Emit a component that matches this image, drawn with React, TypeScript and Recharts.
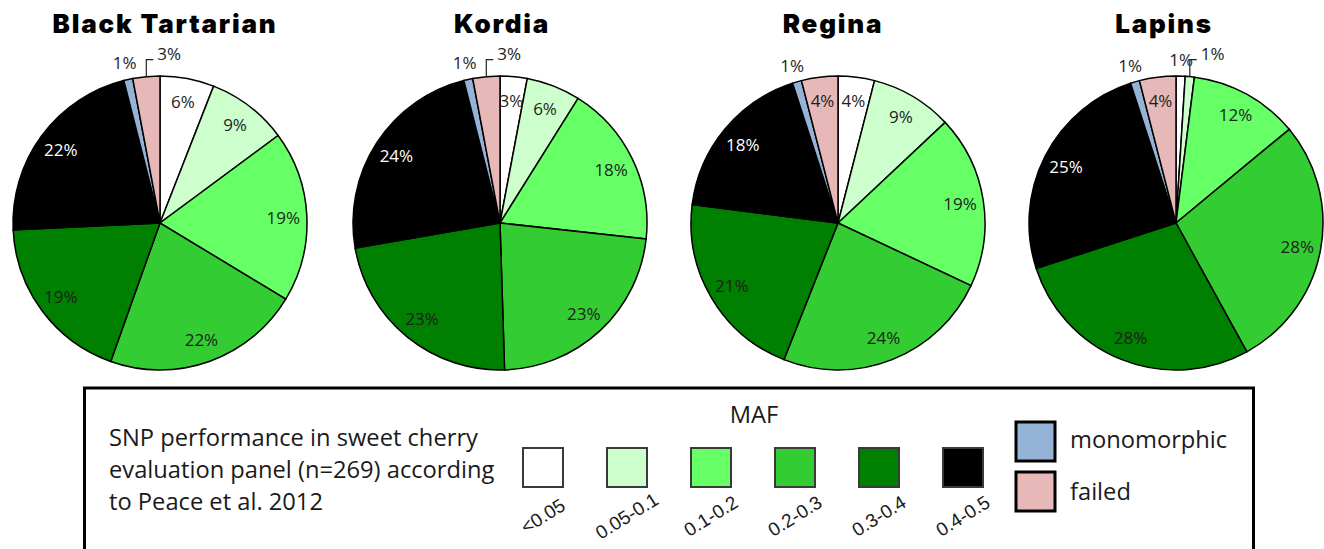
import { PieChart, Pie, Cell } from 'recharts';

// slice order runs clockwise from 12 o'clock
const categories = ['<0.05', '0.05-0.1', '0.1-0.2', '0.2-0.3', '0.3-0.4', '0.4-0.5', 'monomorphic', 'failed'];
const mafLabels = ['<0.05', '0.05-0.1', '0.1-0.2', '0.2-0.3', '0.3-0.4', '0.4-0.5'];
const statusLabels = ['monomorphic', 'failed'];

const cultivars = ['Black Tartarian', 'Kordia', 'Regina', 'Lapins'];

// percentages as printed on each pie
const blackTartarian = [6, 9, 19, 22, 19, 22, 1, 3];
const kordia = [3, 6, 18, 23, 23, 24, 1, 3];
const regina = [4, 9, 19, 24, 21, 18, 1, 4];
const lapins = [1, 1, 12, 28, 28, 25, 1, 4];

const colors = ['#ffffff', '#ccffcc', '#66ff66', '#33cc33', '#008000', '#000000', '#95b3d7', '#e6b9b8'];

type Place = 'in' | 'out' | 'bracket';

const pies = [
  { name: cultivars[0], values: blackTartarian, cx: 160, titleX: 165, place: ['in', 'in', 'in', 'in', 'in', 'in', 'out', 'bracket'] as Place[] },
  { name: cultivars[1], values: kordia, cx: 500, titleX: 502, place: ['in', 'in', 'in', 'in', 'in', 'in', 'out', 'bracket'] as Place[] },
  { name: cultivars[2], values: regina, cx: 838, titleX: 833, place: ['in', 'in', 'in', 'in', 'in', 'in', 'out', 'in'] as Place[] },
  { name: cultivars[3], values: lapins, cx: 1176, titleX: 1164, place: ['out', 'bracket', 'in', 'in', 'in', 'in', 'out', 'in'] as Place[] },
];

const RADIAN = Math.PI / 180;
const labelFont = "'Open Sans', sans-serif";

const makeLabel = (place: Place[]) => (props: any) => {
  const { cx, cy, midAngle, outerRadius, index, value } = props;
  const mode = place[index];
  const cos = Math.cos(-midAngle * RADIAN);
  const sin = Math.sin(-midAngle * RADIAN);
  const text = `${value}%`;

  if (mode === 'bracket') {
    const ex = cx + outerRadius * cos;
    const ey = cy + outerRadius * sin;
    const ty = ey - 17;
    return (
      <g key={`l-${index}`}>
        <polyline points={`${ex},${ey} ${ex},${ty} ${ex + 7},${ty}`} fill="none" stroke="#222" strokeWidth={1.2} />
        <text x={ex + 11} y={ty} fontSize={17} fontFamily={labelFont} fill="#222">{text}</text>
      </g>
    );
  }

  const r = mode === 'out' ? outerRadius + 17 : outerRadius * 0.84;
  const x = cx + r * cos;
  const y = cy + r * sin;
  const fill = mode === 'in' && colors[index] === '#000000' ? '#ffffff' : '#1e1e1e';
  return (
    <text key={`l-${index}`} x={x} y={y} textAnchor="middle" dominantBaseline="central" fontSize={17} fontFamily={labelFont} fill={fill}>
      {text}
    </text>
  );
};

export default function App() {
  return (
    <div style={{ position: 'absolute', left: 0, top: 0, width: 1324, height: 549, background: '#fff', overflow: 'hidden' }}>
      <PieChart width={1324} height={549} margin={{ top: 0, right: 0, bottom: 0, left: 0 }}>
        {pies.map((p) => (
          <Pie
            key={p.name}
            data={p.values.map((v, i) => ({ name: categories[i], value: v }))}
            dataKey="value"
            nameKey="name"
            cx={p.cx}
            cy={223}
            innerRadius={0}
            outerRadius={147}
            startAngle={90}
            endAngle={-270}
            stroke="#000"
            strokeWidth={1.5}
            labelLine={false}
            label={makeLabel(p.place)}
            isAnimationActive={false}
          >
            {p.values.map((_, i) => (
              <Cell key={i} fill={colors[i]} />
            ))}
          </Pie>
        ))}
      </PieChart>

      <svg width={1324} height={549} style={{ position: 'absolute', left: 0, top: 0, pointerEvents: 'none' }}>
        {pies.map((p) => (
          <text key={p.name} x={p.titleX} y={33} textAnchor="middle" fontFamily="Inter, 'DejaVu Sans', sans-serif" fontWeight={900} fontSize={26} letterSpacing={1.8} fill="#000">
            {p.name}
          </text>
        ))}

        {/* legend box */}
        <rect x={84.5} y={388} width={1169} height={200} fill="none" stroke="#000" strokeWidth={3} />
        <g fontFamily={labelFont} fontSize={23.7} fill="#1a1a1a">
          <text x={109} y={446}>SNP performance in sweet cherry</text>
          <text x={109} y={478}>evaluation panel (n=269) according</text>
          <text x={109} y={510}>to Peace et al. 2012</text>
          <text x={754} y={423} textAnchor="middle">MAF</text>
        </g>
        {mafLabels.map((lab, i) => {
          const x = 523 + i * 84;
          return (
            <g key={lab}>
              <rect x={x} y={448} width={40} height={39} fill={colors[i]} stroke="#3a3a3a" strokeWidth={2} />
              <text
                x={x + 20}
                y={516}
                textAnchor="middle"
                dominantBaseline="central"
                transform={`rotate(-32 ${x + 20} 516)`}
                fontFamily="'Liberation Sans', Arial, sans-serif"
                fontSize={19}
                fill="#1a1a1a"
              >
                {lab}
              </text>
            </g>
          );
        })}
        {statusLabels.map((lab, i) => (
          <g key={lab}>
            <rect x={1016} y={422 + i * 50} width={39} height={39} fill={colors[6 + i]} stroke="#000" strokeWidth={3} />
            <text x={1070} y={448 + i * 52} fontFamily={labelFont} fontSize={23.7} fill="#1a1a1a">{lab}</text>
          </g>
        ))}
      </svg>
    </div>
  );
}
